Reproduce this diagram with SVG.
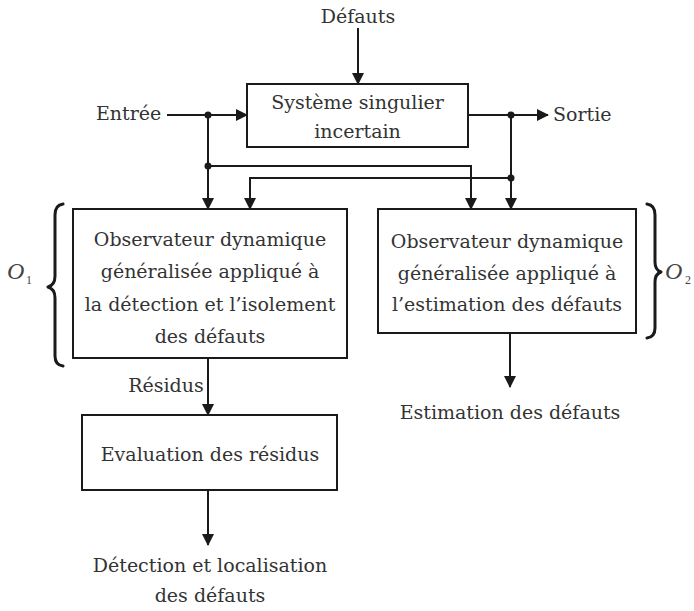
<svg xmlns="http://www.w3.org/2000/svg" width="694" height="611" viewBox="0 0 694 611">
<defs>
<marker id="ah" markerWidth="12" markerHeight="12" refX="11" refY="6" orient="auto" markerUnits="userSpaceOnUse">
<path d="M0,0 L12,6 L0,12 Z" fill="#1a1a1a"/>
</marker>
<style>
.t{font-family:"DejaVu Serif","Liberation Serif",serif;font-size:19px;fill:#333;text-anchor:middle}
.tl{font-family:"DejaVu Serif","Liberation Serif",serif;font-size:19px;fill:#333}
.box{fill:#fff;stroke:#1a1a1a;stroke-width:2}
.c{fill:none;stroke:#1a1a1a;stroke-width:2}
.a{fill:none;stroke:#1a1a1a;stroke-width:2;marker-end:url(#ah)}
.dot{fill:#1a1a1a}
.br{fill:none;stroke:#1a1a1a;stroke-width:3;stroke-linejoin:round;stroke-linecap:round}
.o{font-family:"Liberation Serif",serif;font-style:italic;font-size:24px;fill:#444}
.sub{font-family:"Liberation Serif",serif;font-size:12px;fill:#444}
</style>
</defs>
<rect width="694" height="611" fill="#fff"/>
<g id="connectors">
<line class="a" x1="358" y1="28" x2="358" y2="84"/>
<line class="a" x1="167" y1="115" x2="247" y2="115"/>
<line class="a" x1="468" y1="115" x2="548" y2="115"/>
<line class="a" x1="208" y1="115" x2="208" y2="209"/>
<polyline class="a" points="208,166 471,166 471,209"/>
<line class="a" x1="511" y1="115" x2="511" y2="209"/>
<polyline class="a" points="511,178 250,178 250,209"/>
<line class="a" x1="208" y1="358" x2="208" y2="415"/>
<line class="a" x1="208" y1="490" x2="208" y2="545"/>
<line class="a" x1="510" y1="333" x2="510" y2="387"/>
<circle class="dot" cx="208" cy="115" r="3.5"/>
<circle class="dot" cx="511" cy="115" r="3.5"/>
<circle class="dot" cx="208" cy="166" r="3.5"/>
<circle class="dot" cx="511" cy="178" r="3.5"/>
</g>
<g id="label-defauts"><text class="t" x="358" y="23">Défauts</text></g>
<g id="label-entree"><text class="tl" x="96" y="120">Entrée</text></g>
<g id="label-sortie"><text class="tl" x="553" y="121">Sortie</text></g>
<g id="systeme">
<rect class="box" x="247" y="84" width="221" height="63"/>
<text class="t" x="357.5" y="109">Système singulier</text>
<text class="t" x="357.5" y="138">incertain</text>
</g>
<g id="observateur1">
<rect class="box" x="73" y="209" width="274" height="149"/>
<text class="t" x="210" y="246">Observateur dynamique</text>
<text class="t" x="210" y="278">généralisée appliqué à</text>
<text class="t" x="210" y="311">la détection et l’isolement</text>
<text class="t" x="210" y="343">des défauts</text>
</g>
<g id="observateur2">
<rect class="box" x="378" y="209" width="258" height="124"/>
<text class="t" x="507" y="248">Observateur dynamique</text>
<text class="t" x="507" y="280">généralisée appliqué à</text>
<text class="t" x="507" y="311">l’estimation des défauts</text>
</g>
<g id="label-residus"><text class="t" x="166" y="392">Résidus</text></g>
<g id="evaluation">
<rect class="box" x="82" y="415" width="255" height="75"/>
<text class="t" x="210" y="461">Evaluation des résidus</text>
</g>
<g id="label-estimation"><text class="t" x="510" y="419">Estimation des défauts</text></g>
<g id="label-detection">
<text class="t" x="210" y="572">Détection et localisation</text>
<text class="t" x="210" y="602">des défauts</text>
</g>
<g id="brace1">
<path class="br" d="M63,204 Q55,205 55,215 L55,276 Q55,285 48,287 Q55,289 55,298 L55,356 Q55,365 63,366"/>
<text class="o" x="7" y="279">O</text><text class="sub" x="26" y="284">1</text>
</g>
<g id="brace2">
<path class="br" d="M647,204 Q655,205 655,215 L655,262 Q655,270 661,272 Q655,274 655,282 L655,328 Q655,337 647,338"/>
<text class="o" x="665" y="279">O</text><text class="sub" x="685" y="284">2</text>
</g>
</svg>
